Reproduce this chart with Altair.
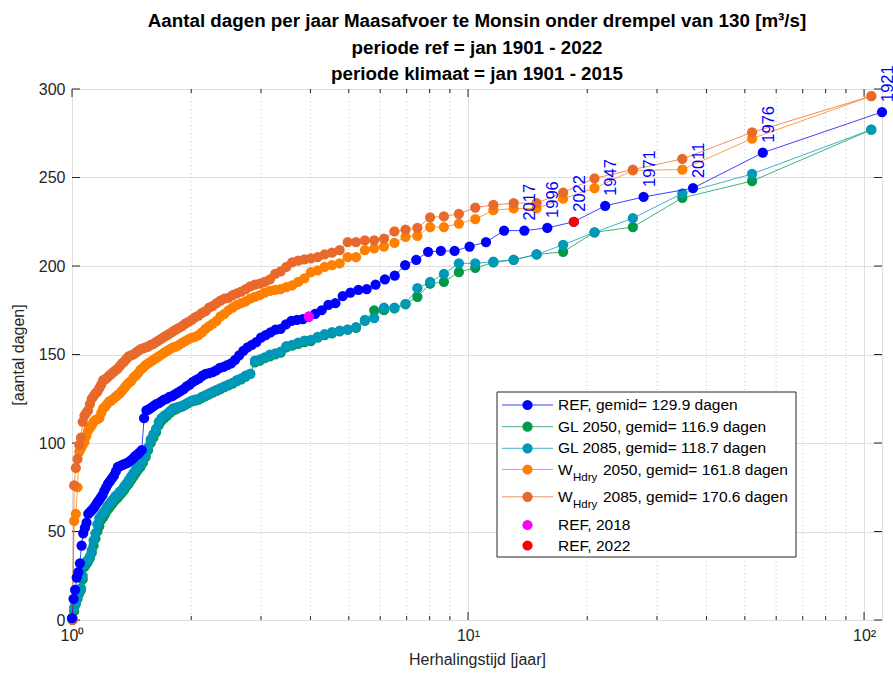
import altair as alt
import pandas as pd

# ---------------- data ----------------
# number of days per year below threshold, sorted from largest (rank 1) downwards
REF = [287, 264, 244, 239, 234, 225, 221.5, 220, 220, 213.5,
       211, 208.5, 208.5, 208, 203.5, 200.5, 194.5, 192.5, 189.5, 187,
       186.5, 185, 183, 179, 178, 175, 173, 171.4, 170, 169.5,
       169, 167, 164.5, 164, 162.5, 161, 159.5, 157, 155.5, 154,
       152, 149.5, 147, 145, 144, 143, 142.5, 141, 140, 139.5,
       139, 138, 136.5, 135.5, 134.5, 133, 132, 130.5, 129.5, 128.5,
       127.5, 126.5, 126, 125, 124.5, 123.5, 122.5, 122, 121, 120,
       119, 118.5, 114, 96, 94.5, 93.5, 92.5, 91, 90, 89,
       88.5, 88, 87.5, 87, 86.5, 84, 81.5, 80, 78.5, 77,
       75, 73, 70.5, 69, 67.5, 66, 64.5, 63, 62, 61,
       60, 55, 52, 49, 42, 32, 27, 24, 17, 12, 1]

GL2050 = [277, 248, 238.5, 222, 219, 208, 206.5, 203.5, 202, 199,
          196.5, 191, 190, 182.5, 178.5, 176, 175, 175, 169, 165,
          164, 163, 162, 161, 159.5, 157.5, 157, 156, 155, 154,
          151, 150, 149, 148, 146.5, 145.5, 139, 137.5, 136, 135,
          133.5, 132.5, 131.5, 130.5, 129.5, 128.5, 127.5, 126.5, 125.5, 124.5,
          124, 123.5, 122.5, 121.5, 120.5, 120, 119, 118.5, 117, 115.5,
          114, 112.5, 110, 106, 103, 100, 96, 92, 89, 86.5,
          85, 83, 81, 79, 77, 75.5, 73.5, 72, 70.5, 69,
          68, 66.5, 65, 63.5, 62, 60, 58, 56.5, 53, 50,
          46, 42, 38, 35, 33, 31.5, 30, 23, 17, 15,
          12, 9, 5, 0]

GL2085 = [277, 252, 241, 227, 219, 212, 206.5, 203.5, 202.5, 201.5,
          201.5, 195.5, 191, 187.5, 178.5, 176.5, 176.5, 170.5, 169.5, 165.5,
          164, 163.5, 162.7, 161.5, 160, 158.2, 157.8, 156.7, 155.4, 154.8,
          151.6, 150.7, 150, 148.4, 147.3, 146.5, 139, 138, 136.5, 135.5,
          134, 133, 132, 131, 130, 129, 128, 127, 126, 125,
          124.5, 124, 123, 122, 121, 120.5, 120, 119.5, 118, 116.5,
          115.5, 114, 112, 108, 105, 102, 97.5, 93, 90.5, 88,
          86.5, 85, 83, 81, 79, 77, 75.5, 73.5, 72.5, 71,
          70, 68.5, 67, 65.5, 64, 62, 60.5, 59, 57.5, 54,
          49, 45, 39.5, 36, 34, 33, 31.5, 25, 18, 16,
          13, 10, 7, 1]

W2050 = [296, 272, 254.5, 254, 244, 238, 232.5, 232.5, 231.5, 226.5,
         224, 222, 222, 217, 216.5, 213, 211, 210, 209, 205,
         205, 201.5, 200.5, 199.5, 197.5, 196.5, 193, 191, 189, 188,
         187, 186.5, 186, 185, 183.5, 182.5, 181.5, 180, 179, 178,
         176.5, 175, 173, 171.5, 169, 167.5, 166, 164.5, 162.5, 161,
         160, 159.5, 158.5, 157.5, 156.5, 155.5, 154.5, 154, 153, 152,
         151, 150, 149, 148, 147, 146, 145, 144, 142.5, 141.5,
         139.5, 138, 137, 135, 134, 132.5, 131, 129.5, 128, 127,
         126, 125, 124, 123.5, 122, 120.5, 119.5, 117, 114, 113.5,
         113, 112, 110, 108.5, 107, 104, 100.5, 99, 97, 95,
         75, 60, 56, 1]

W2085 = [296, 275.5, 260.5, 254.5, 249.5, 241.5, 235.5, 235.5, 234.5, 233,
         229.5, 228, 227.5, 221.5, 220.5, 219.5, 215.5, 214.5, 214.5, 213.5,
         213.5, 209, 207.5, 206.5, 205, 204.3, 203.8, 203, 202, 199.5,
         197, 195.5, 192.5, 191, 190, 189.5, 188.5, 187, 185.5, 184.5,
         183.5, 182, 181.5, 180.5, 179, 177.5, 176.5, 174.5, 173.5, 172,
         171, 169.5, 168.5, 167.5, 166, 165, 164, 163, 162, 161,
         160, 159, 158, 157, 156, 155.5, 154.5, 154, 153.5, 153,
         152, 151, 150, 149.5, 149, 147.5, 146, 145, 143.5, 142,
         141, 140, 139, 138, 137, 136, 135.5, 133, 131, 129,
         128, 126.5, 125, 122, 118.5, 117, 115.5, 112, 103, 99,
         91, 86, 76, 0]

# return period = numerator / rank
REF_T_NUM = 111.0
CLIM_T_NUM = 104.3

LABEL_YEARS = ["1921", "1976", "2011", "1971", "1947", "2022", "1996", "2017"]  # REF ranks 1..8
REF2018_RANK = 28
REF2022_RANK = 6

Y_TICKS = [0, 50, 100, 150, 200, 250, 300]
X_TICKS = [1, 10, 100]
X_MINOR = [2, 3, 4, 5, 6, 7, 8, 9, 20, 30, 40, 50, 60, 70, 80, 90]

SERIES_KEYS = ["REF", "GL 2050", "GL 2085", "W 2050", "W 2085", "REF 2018", "REF 2022"]
SERIES_COLORS = ["#0000ff", "#00994a", "#0098b8", "#ff8000", "#e8692c", "#ff00ff", "#ff0000"]
LEGEND_TEXT = ["REF, gemid= 129.9 dagen", "GL 2050, gemid= 116.9 dagen",
               "GL 2085, gemid= 118.7 dagen", "2050, gemid= 161.8 dagen",
               "2085, gemid= 170.6 dagen", "REF, 2018", "REF, 2022"]

TITLE = ["Aantal dagen per jaar Maasafvoer te Monsin onder drempel van 130 [m\u00b3/s]",
         "periode ref = jan 1901 - 2022",
         "periode klimaat = jan 1901 - 2015"]

# ---------------- build tables ----------------
series_values = {"REF": REF, "GL 2050": GL2050, "GL 2085": GL2085,
                 "W 2050": W2050, "W 2085": W2085}
rows = []
for key, vals in series_values.items():
    num = REF_T_NUM if key == "REF" else CLIM_T_NUM
    for i, v in enumerate(vals):
        rows.append({"key": key, "rank": i + 1, "T": num / (i + 1), "v": v})
df = pd.DataFrame(rows)

special = pd.DataFrame([
    {"key": "REF 2018", "T": REF_T_NUM / REF2018_RANK, "v": REF[REF2018_RANK - 1]},
    {"key": "REF 2022", "T": REF_T_NUM / REF2022_RANK, "v": REF[REF2022_RANK - 1]},
])
labels = pd.DataFrame([{"T": REF_T_NUM / (i + 1), "v": REF[i], "year": y}
                       for i, y in enumerate(LABEL_YEARS)])

W, H = 810, 531
FONT = "Liberation Sans"
TXT = "#262626"

xscale = alt.Scale(type="log", domain=[1, 111], nice=False)
yscale = alt.Scale(domain=[0, 300], nice=False)
cscale = alt.Scale(domain=SERIES_KEYS, range=SERIES_COLORS)

XAX = alt.Axis(values=X_TICKS, grid=True, gridColor="#dedede", ticks=False,
               domain=False, labelFont=FONT, labelFontSize=16, labelColor=TXT,
               labelPadding=7, labelFlush=False,
               labelExpr="datum.value == 1 ? '10\u2070' : datum.value == 10 ? '10\u00b9' : '10\u00b2'",
               titleFont=FONT, titleFontSize=16, titleFontWeight="normal",
               titleColor=TXT, titlePadding=8)
YAX = alt.Axis(values=Y_TICKS, grid=True, gridColor="#dedede", ticks=False,
               domain=False, labelFont=FONT, labelFontSize=16, labelColor=TXT,
               labelPadding=7, titleFont=FONT, titleFontSize=16,
               titleFontWeight="normal", titleColor=TXT, titlePadding=12)
XT = "Herhalingstijd [jaar]"
YT = "[aantal dagen]"


def X(field):
    return alt.X(field, scale=xscale, axis=XAX, title=XT)


def Y(field):
    return alt.Y(field, scale=yscale, axis=YAX, title=YT)


minor_grid = alt.Chart(pd.DataFrame({"T": X_MINOR})).mark_rule(
    color="#c4c4c4", strokeDash=[1, 3], strokeWidth=1).encode(
    x=X("T:Q"), y=alt.value(0), y2=alt.value(H))

# inside ticks (box on all sides)
yt = pd.DataFrame({"v": Y_TICKS})
xt = pd.DataFrame({"T": X_TICKS})
xm = pd.DataFrame({"T": X_MINOR})
tick_col = "#262626"
ticks = [
    alt.Chart(yt).mark_rule(color=tick_col).encode(y=Y("v:Q"), x=alt.value(0), x2=alt.value(8)),
    alt.Chart(yt).mark_rule(color=tick_col).encode(y=Y("v:Q"), x=alt.value(W - 8), x2=alt.value(W)),
    alt.Chart(xt).mark_rule(color=tick_col).encode(x=X("T:Q"), y=alt.value(H - 8), y2=alt.value(H)),
    alt.Chart(xt).mark_rule(color=tick_col).encode(x=X("T:Q"), y=alt.value(0), y2=alt.value(8)),
    alt.Chart(xm).mark_rule(color=tick_col).encode(x=X("T:Q"), y=alt.value(H - 4), y2=alt.value(H)),
    alt.Chart(xm).mark_rule(color=tick_col).encode(x=X("T:Q"), y=alt.value(0), y2=alt.value(4)),
]

layers = [minor_grid] + ticks

draw_order = ["GL 2050", "GL 2085", "W 2050", "W 2085", "REF"]
for key in draw_order:
    sub = alt.Chart(df).transform_filter(alt.datum.key == key)
    layers.append(sub.mark_line(strokeWidth=1, opacity=0.75).encode(
        x=X("T:Q"), y=Y("v:Q"),
        order=alt.Order("rank:Q"),
        color=alt.Color("key:N", scale=cscale, legend=None)))
    layers.append(sub.mark_circle(size=105, opacity=1).encode(
        x=X("T:Q"), y=Y("v:Q"),
        color=alt.Color("key:N", scale=cscale, legend=None)))

layers.append(alt.Chart(special).mark_circle(size=105, opacity=1).encode(
    x=X("T:Q"), y=Y("v:Q"),
    color=alt.Color("key:N", scale=cscale, legend=None)))

layers.append(alt.Chart(labels).mark_text(
    angle=270, align="left", baseline="middle", dx=10, dy=6,
    font=FONT, fontSize=16.5, color="#0000ff").encode(
    x=X("T:Q"), y=Y("v:Q"), text="year:N"))

# ---------------- title (drawn as text so that it is not pushed by the labels) ----------------
title_df = pd.DataFrame({"line": TITLE, "py": [-62, -35.5, -9.5]})
layers.append(alt.Chart(title_df).mark_text(
    align="center", baseline="alphabetic", font=FONT, fontSize=18.8, fontWeight="bold",
    color="#000000").encode(x=alt.value(W / 2), y=alt.Y("py:Q", scale=None), text="line:N"))

# ---------------- legend (drawn manually: subscript text) ----------------
LEG_X0, LEG_X1, LEG_Y0, LEG_Y1 = 425, 724, 303, 468
leg = pd.DataFrame({
    "key": SERIES_KEYS,
    "txt": LEGEND_TEXT,
    "py": [316, 337.7, 359.3, 380.5, 407.8, 436, 456.5],
    "line": [1, 1, 1, 1, 1, 0, 0],
    "w": [0, 0, 0, 1, 1, 0, 0],
})
layers.append(alt.Chart(pd.DataFrame({"a": [0]})).mark_rect(
    fill="white", stroke="#262626", strokeWidth=1).encode(
    x=alt.value(LEG_X0), x2=alt.value(LEG_X1), y=alt.value(LEG_Y0), y2=alt.value(LEG_Y1)))
legc = alt.Chart(leg)
layers.append(legc.transform_filter(alt.datum.line == 1).mark_rule(strokeWidth=1, opacity=0.75).encode(
    x=alt.value(430), x2=alt.value(481), y=alt.Y("py:Q", scale=None),
    color=alt.Color("key:N", scale=cscale, legend=None)))
layers.append(legc.mark_circle(size=105, opacity=1).encode(
    x=alt.value(455.5), y=alt.Y("py:Q", scale=None),
    color=alt.Color("key:N", scale=cscale, legend=None)))
layers.append(legc.transform_filter(alt.datum.w == 0).mark_text(
    align="left", baseline="middle", font=FONT, fontSize=15.5, color="#000000").encode(
    x=alt.value(486), y=alt.Y("py:Q", scale=None), text="txt:N"))
wrows = legc.transform_filter(alt.datum.w == 1)
layers.append(wrows.mark_text(align="left", baseline="middle", font=FONT, fontSize=15.5,
                              color="#000000", text="W").encode(
    x=alt.value(486), y=alt.Y("py:Q", scale=None)))
layers.append(wrows.mark_text(align="left", baseline="middle", font=FONT, fontSize=11.5,
                              color="#000000", text="Hdry", dy=8).encode(
    x=alt.value(501), y=alt.Y("py:Q", scale=None)))
layers.append(wrows.mark_text(align="left", baseline="middle", font=FONT, fontSize=15.5,
                              color="#000000").encode(
    x=alt.value(531), y=alt.Y("py:Q", scale=None), text="txt:N"))

chart = alt.layer(*layers).properties(
    width=W, height=H,
    autosize=alt.AutoSizeParams(type="none"),
    padding={"left": 72, "top": 89, "right": 11, "bottom": 60},
).configure_view(stroke="#262626", strokeWidth=1).configure(background="white")

chart.save("out.html", embed_options={"renderer": "svg", "actions": False})
